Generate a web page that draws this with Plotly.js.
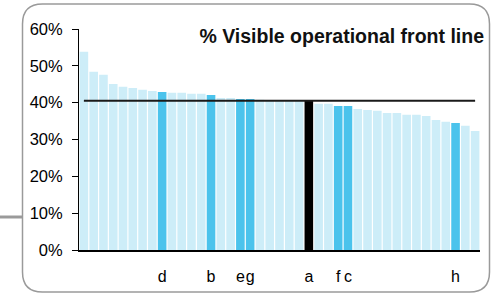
<!DOCTYPE html>
<html>
<head>
<meta charset="utf-8">
<script src="https://cdn.plot.ly/plotly-3.0.1.min.js"></script>
<style>
html,body{margin:0;padding:0;background:#fff;}
#chart{width:492px;height:294px;}
</style>
</head>
<body>
<div id="chart"></div>
<script>
// ---- data ----
const values = [53.8, 48.4, 47.6, 45.1, 44.3, 44.0, 43.5, 43.2, 42.9, 42.7,
                42.7, 42.4, 42.4, 42.1, 41.3, 41.3, 41.0, 41.0, 40.8, 40.7,
                40.7, 40.6, 40.6, 40.5, 39.7, 39.7, 39.1, 39.1, 38.3, 38.0,
                37.8, 37.2, 37.2, 36.7, 36.7, 36.4, 35.3, 34.8, 34.5, 33.7, 32.3];
const labels = ['', '', '', '', '', '', '', '', 'd', '',
                '', '', '', 'b', '', '', 'e', 'g', '', '',
                '', '', '', 'a', '', '', 'f', 'c', '', '',
                '', '', '', '', '', '', '', '', 'h', '', ''];
const referenceLabel = 'a';
const averageValue = 40.5;
const chartTitle = '% Visible operational front line';

// ---- styling ----
const cBase = '#cdedf8', cHi = '#4bc3ec', cRef = '#000000';
const idx = values.map((v, i) => i);
const colors = labels.map(l => l === referenceLabel ? cRef : (l ? cHi : cBase));
const tickvals = idx.filter(i => labels[i]);
const ticktext = tickvals.map(i => labels[i]);

// plot-area pixel geometry for shapes
const L = 79, R = 480, T = 29, B = 250, W = 492, H = 294;
const px = x => (x - L) / (R - L);
const py = y => (B - y) / (B - T);
function roundRect(x0, y0, x1, y1, r) {
  return `M${px(x0 + r)},${py(y0)} L${px(x1 - r)},${py(y0)} Q${px(x1)},${py(y0)} ${px(x1)},${py(y0 + r)} ` +
         `L${px(x1)},${py(y1 - r)} Q${px(x1)},${py(y1)} ${px(x1 - r)},${py(y1)} ` +
         `L${px(x0 + r)},${py(y1)} Q${px(x0)},${py(y1)} ${px(x0)},${py(y1 - r)} ` +
         `L${px(x0)},${py(y0 + r)} Q${px(x0)},${py(y0)} ${px(x0 + r)},${py(y0)} Z`;
}

const traces = [
  {
    type: 'bar', x: idx, y: values.map(v => v / 100),
    marker: {color: colors, line: {width: 0}},
    hoverinfo: 'skip', showlegend: false
  },
  {
    type: 'scatter', mode: 'lines', x: idx, y: idx.map(() => averageValue / 100),
    line: {color: '#1a1a1a', width: 2},
    hoverinfo: 'skip', showlegend: false
  }
];

const layout = {
  width: W, height: H,
  margin: {l: L, r: W - R, t: T, b: H - B, pad: 0},
  paper_bgcolor: '#fff', plot_bgcolor: '#fff',
  bargap: 0.12,
  font: {family: 'Liberation Sans, Arial, sans-serif', color: '#000', size: 16},
  title: {
    text: '<b>' + chartTitle + '</b>',
    font: {size: 19.5, color: '#111', family: 'Liberation Sans, Arial, sans-serif'},
    x: 484 / W, xanchor: 'right', xref: 'container',
    y: 1 - 36 / H, yanchor: 'middle', yref: 'container'
  },
  xaxis: {
    range: [-0.5, values.length - 0.5],
    tickvals: tickvals, ticktext: ticktext,
    tickangle: 0,
    ticks: '', showgrid: false, zeroline: false,
    showline: true, linecolor: '#000', linewidth: 1.5,
    ticklabelstandoff: 11,
    tickfont: {size: 16}
  },
  yaxis: {
    range: [0, 0.6], dtick: 0.1, tickformat: '.0%',
    ticks: 'outside', ticklen: 6, tickcolor: '#000', tickwidth: 1,
    showline: true, linecolor: '#000', linewidth: 1,
    showgrid: false, zeroline: false,
    ticklabelstandoff: 6,
    tickfont: {size: 16.5}
  },
  shapes: [
    {type: 'path', xref: 'paper', yref: 'paper', path: roundRect(22.5, 4, 489.5, 292, 20),
     line: {color: '#9a9a9a', width: 1.5}, fillcolor: 'rgba(0,0,0,0)', layer: 'below'},
    {type: 'line', xref: 'paper', yref: 'paper', x0: px(0), x1: px(22), y0: py(217), y1: py(217),
     line: {color: '#9a9a9a', width: 3}}
  ]
};

Plotly.newPlot('chart', traces, layout, {displayModeBar: false, staticPlot: true});
</script>
</body>
</html>
